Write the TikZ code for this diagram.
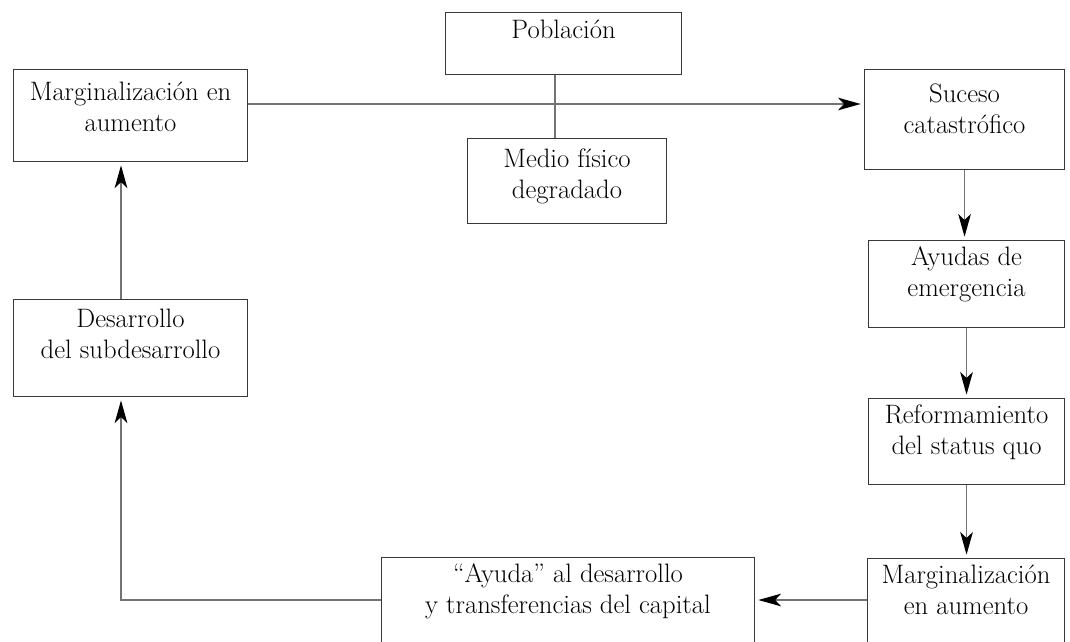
\documentclass[tikz,border=0pt]{standalone}
\usetikzlibrary{arrows.meta}
\newdimen\pxu \pxu=0.75pt
\newcommand{\bxt}[4]{\parbox[c][#2\pxu][t]{#1\pxu}{\centering\rule{0pt}{#3\pxu}#4\par}}
\begin{document}
\begin{tikzpicture}[x=0.75pt,y=-0.75pt,
  bx/.style={draw=black!78, line width=0.8pt, inner sep=0pt, anchor=north west,
    font=\fontsize{20}{23.25}\selectfont},
  con/.style={draw=black!55, line width=0.8pt},
  arr/.style={con, -{Stealth[length=17pt,width=9.5pt,inset=4.5pt,color=black]}, shorten >=2.5pt}]
\useasboundingbox (0,0) rectangle (1070,642);
\clip (0,0) rectangle (1070,642);
\node[bx] (mL)  at (13,69)   {\bxt{234}{92}{31}{Marginalización en\\aumento}};
\node[bx] (pob) at (445,12)  {\bxt{236}{62}{26}{Población}};
\node[bx] (med) at (467,138) {\bxt{199}{85}{29}{Medio físico\\degradado}};
\node[bx] (suc) at (864,69)  {\bxt{200}{100}{33}{Suceso\\catastrófico}};
\node[bx] (ayu) at (868,240) {\bxt{196}{87}{25}{Ayudas de\\emergencia}};
\node[bx] (ref) at (868,398) {\bxt{196}{86}{25}{Reformamiento\\del status quo}};
\node[bx] (mR)  at (867,558) {\bxt{197}{100}{25}{Marginalización\\en aumento}};
\node[bx] (ayd) at (381,557) {\bxt{373}{100}{25}{“Ayuda” al desarrollo\\y transferencias del capital}};
\node[bx] (des) at (13,299)  {\bxt{234}{97}{28}{Desarrollo\\del subdesarrollo}};
\coordinate (hy) at (0,104);
\coordinate (vx) at (555,0);
\coordinate (by) at (0,600);
\coordinate (lx) at (121,0);
\draw[con] (pob.south -| vx) -- (med.north -| vx);
\draw[arr] (mL.east |- hy) -- (suc.west |- hy);
\draw[arr] (suc.south) -- (suc.south |- ayu.north);
\draw[arr] (ayu.south) -- (ayu.south |- ref.north);
\draw[arr] (ref.south) -- (ref.south |- mR.north);
\draw[arr] (mR.west |- by) -- (ayd.east |- by);
\draw[arr] (ayd.west |- by) -- (lx |- by) -- (lx |- des.south);
\draw[arr] (lx |- des.north) -- (lx |- mL.south);
\end{tikzpicture}
\end{document}
